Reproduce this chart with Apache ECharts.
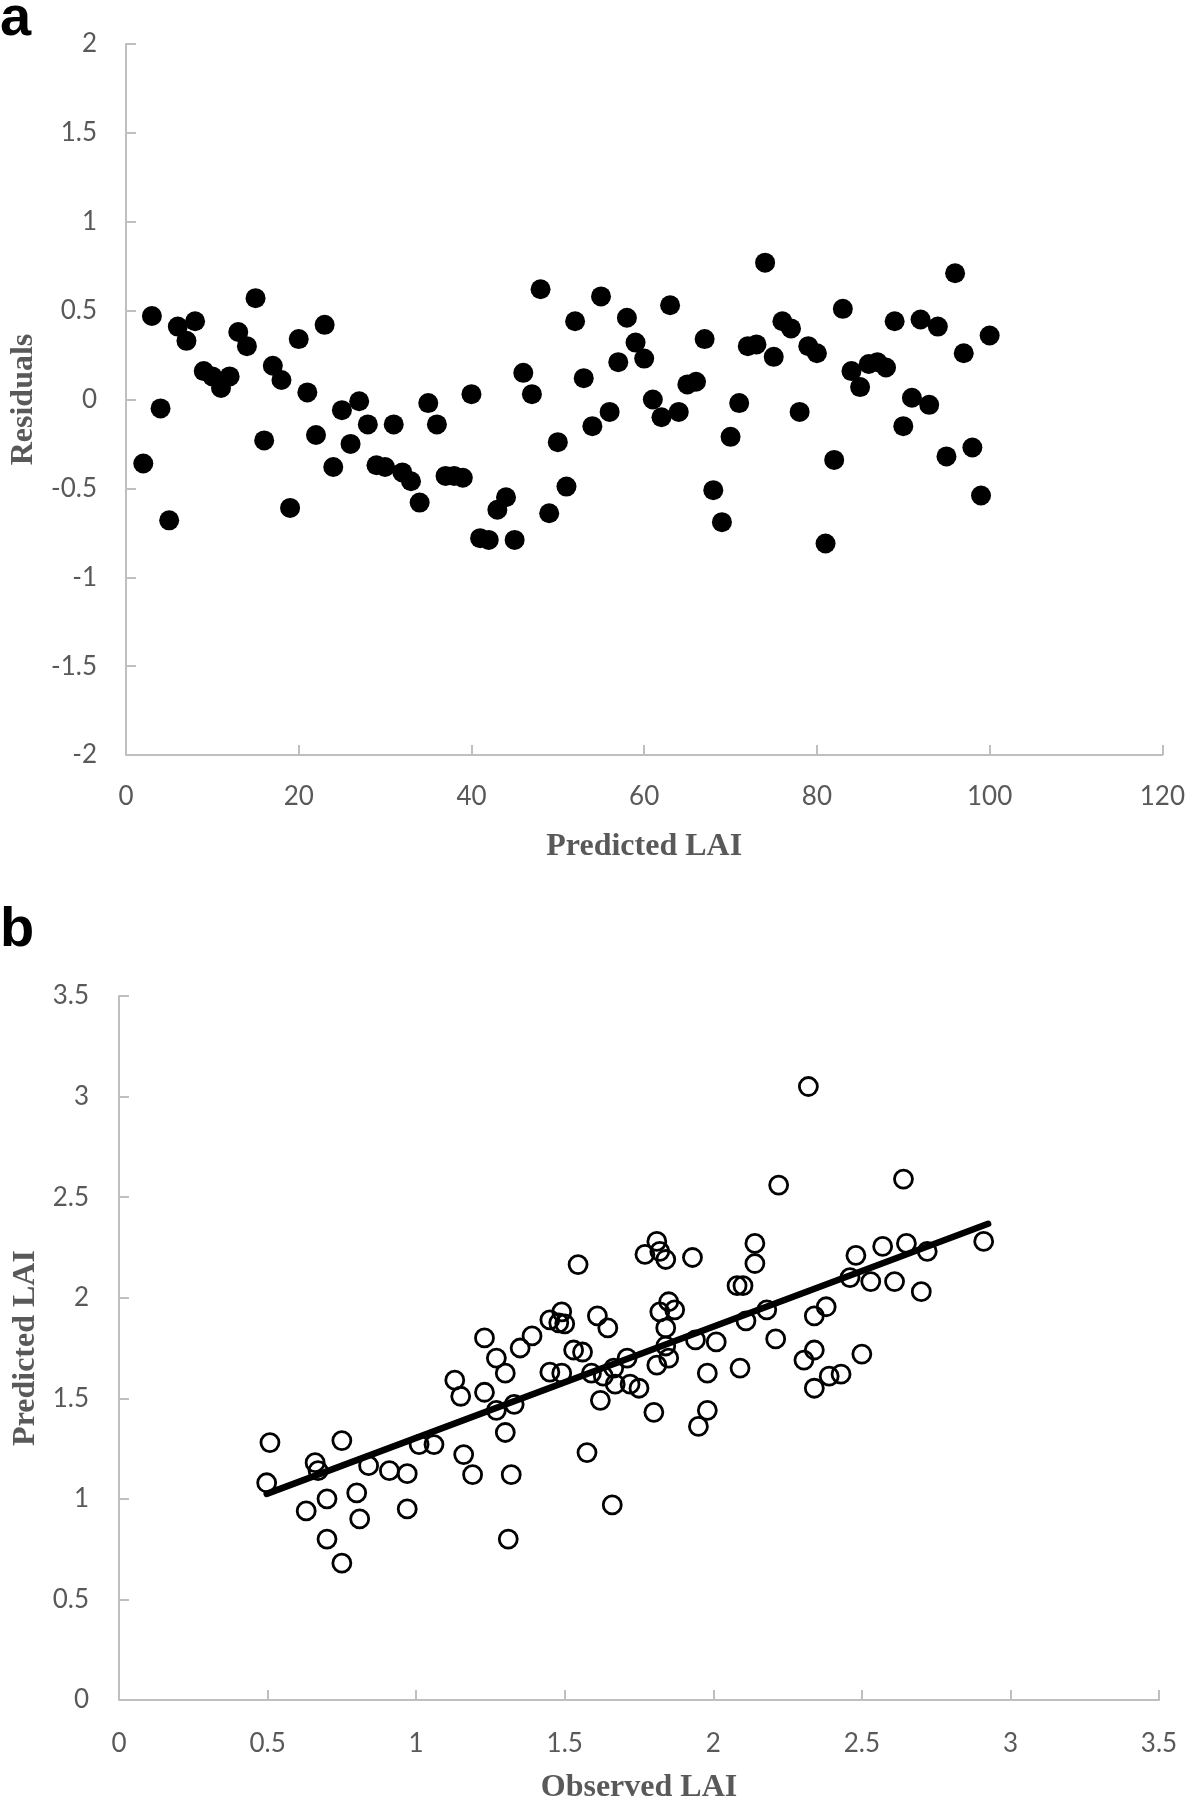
<!DOCTYPE html>
<html>
<head>
<meta charset="utf-8">
<script src="https://cdn.jsdelivr.net/npm/echarts@6/dist/echarts.min.js"></script>
<style>
html,body{margin:0;padding:0;background:#fff;}
#c{width:1188px;height:1805px;}
</style>
</head>
<body>
<div id="c"></div>
<script>
// Panel a: residuals vs sample index
var residualX = [2,3,4,5,6,7,8,9,10,11,12,13,14,15,16,17,18,19,20,21,22,23,24,25,26,27,28,29,30,31,32,33,34,35,36,37,38,39,40,41,42,43,44,45,46,47,48,49,50,51,52,53,54,55,56,57,58,59,60,61,62,63,64,65,66,67,68,69,70,71,72,73,74,75,76,77,78,79,80,81,82,83,84,85,86,87,88,89,90,91,92,93,94,95,96,97,98,99,100];
var residualY = [-0.36,0.47,-0.05,-0.68,0.41,0.33,0.44,0.16,0.13,0.065,0.13,0.38,0.30,0.57,-0.23,0.19,0.11,-0.61,0.34,0.04,
 -0.20,0.42,-0.38,-0.06,-0.25,-0.01,-0.14,-0.37,-0.38,-0.14,-0.41,-0.46,-0.58,-0.02,-0.14,-0.43,-0.43,-0.44,0.03,-0.78,
 -0.79,-0.62,-0.55,-0.79,0.15,0.03,0.62,-0.64,-0.24,-0.49,0.44,0.12,-0.15,0.58,-0.07,0.21,0.46,0.32,0.23,0.0,
 -0.10,0.53,-0.07,0.085,0.10,0.34,-0.51,-0.69,-0.21,-0.02,0.30,0.31,0.77,0.24,0.44,0.40,-0.07,0.30,0.26,-0.81,
 -0.34,0.51,0.16,0.07,0.20,0.21,0.18,0.44,-0.15,0.01,0.45,-0.03,0.41,-0.32,0.71,0.26,-0.27,-0.54,0.36];

// Panel b: observed vs predicted LAI
var observedLAI = [0.497,0.508,0.63,0.66,0.67,0.70,0.70,0.75,0.75,0.80,0.81,0.84,0.91,0.97,0.97,1.01,1.06,1.13,1.15,1.16,
 1.19,1.23,1.23,1.27,1.27,1.30,1.30,1.31,1.32,1.33,1.35,1.39,1.45,1.45,1.48,1.49,1.50,1.49,1.53,1.545,
 1.56,1.575,1.59,1.61,1.62,1.63,1.645,1.66,1.665,1.67,1.71,1.72,1.75,1.77,1.80,1.81,1.81,1.82,1.82,1.84,
 1.84,1.84,1.85,1.85,1.87,1.93,1.94,1.95,1.98,1.98,2.01,2.08,2.09,2.10,2.11,2.14,2.14,2.18,2.21,2.22,
 2.305,2.32,2.34,2.34,2.34,2.38,2.39,2.43,2.46,2.48,2.50,2.53,2.57,2.61,2.64,2.65,2.70,2.72,2.91];
var predictedLAI = [1.08,1.28,0.94,1.18,1.14,1.00,0.80,1.29,0.68,1.03,0.90,1.165,1.14,0.95,1.125,1.27,1.27,1.59,1.51,1.22,
 1.12,1.53,1.80,1.70,1.44,1.625,1.33,0.80,1.12,1.47,1.75,1.81,1.63,1.89,1.875,1.93,1.87,1.625,1.74,2.165,
 1.73,1.23,1.625,1.91,1.49,1.61,1.85,0.97,1.65,1.57,1.70,1.57,1.55,2.215,1.43,1.665,2.28,1.93,2.23,2.19,
 1.85,1.76,1.98,1.70,1.94,2.20,1.79,1.36,1.44,1.625,1.78,2.06,1.65,2.06,1.885,2.27,2.17,1.94,1.795,2.56,
 1.69,3.05,1.55,1.91,1.74,1.955,1.61,1.62,2.10,2.21,1.72,2.08,2.255,2.08,2.59,2.27,2.03,2.23,2.28];
var trendSlope = 0.553;
var trendIntercept = 0.750;

var aTicksX = {min:0,max:120,interval:20};
var aTicksY = {min:-2,max:2,interval:0.5};
var bTicks = {min:0,max:3.5,interval:0.5};

var dataA = residualX.map(function(x,i){return [x,residualY[i]];});
var dataB = observedLAI.map(function(x,i){return [x,predictedLAI[i]];});
var xMin = Math.min.apply(null, observedLAI), xMax = Math.max.apply(null, observedLAI) + 0.015;
var trend = [[xMin, trendIntercept + trendSlope*xMin],[xMax, trendIntercept + trendSlope*xMax]];

var axisColor = '#bfbfbf';
var labelStyle = {color:'#595959', fontFamily:'Lato', fontSize:26};
var nameStyle = {color:'#595959', fontFamily:'Liberation Serif', fontWeight:'bold', fontSize:32};
function valAxis(o){
  return Object.assign({
    type:'value',
    axisLine:{show:true,onZero:false,lineStyle:{color:axisColor,width:2}},
    axisTick:{show:true,inside:true,length:10,lineStyle:{color:axisColor,width:2}},
    splitLine:{show:false},
    nameLocation:'middle',
    nameTextStyle:nameStyle
  }, o);
}

var chart = echarts.init(document.getElementById('c'));
chart.setOption({
  animation:false,
  backgroundColor:'#fff',
  graphic:[
    {type:'text',left:0,top:-8,style:{text:'a',font:'bold 56px "Liberation Sans"',fill:'#000'}},
    {type:'text',left:0,top:903,style:{text:'b',font:'bold 56px "Liberation Sans"',fill:'#000'}}
  ],
  grid:[
    {left:123,top:44,width:1043,height:711},
    {left:119,top:996,width:1040,height:716}
  ],
  xAxis:[
    valAxis({gridIndex:0,min:aTicksX.min,max:aTicksX.max,interval:aTicksX.interval,
      axisLabel:Object.assign({margin:29},labelStyle),name:'Predicted LAI',nameGap:76}),
    valAxis({gridIndex:1,min:bTicks.min,max:bTicks.max,interval:bTicks.interval,
      axisLabel:Object.assign({margin:31},labelStyle),name:'Observed LAI',nameGap:72})
  ],
  yAxis:[
    valAxis({gridIndex:0,min:aTicksY.min,max:aTicksY.max,interval:aTicksY.interval,
      axisLabel:Object.assign({margin:29},labelStyle),name:'Residuals',nameGap:86}),
    valAxis({gridIndex:1,min:bTicks.min,max:bTicks.max,interval:bTicks.interval,
      axisLabel:Object.assign({margin:30},labelStyle),name:'Predicted LAI',nameGap:76})
  ],
  series:[
    {type:'scatter',xAxisIndex:0,yAxisIndex:0,data:dataA,symbol:'circle',symbolSize:20,
      itemStyle:{color:'#000',opacity:1}},
    {type:'scatter',xAxisIndex:1,yAxisIndex:1,data:dataB,symbol:'circle',symbolSize:18,
      itemStyle:{color:'rgba(0,0,0,0)',borderColor:'#000',borderWidth:2.8,opacity:1}},
    {type:'line',xAxisIndex:1,yAxisIndex:1,data:trend,showSymbol:false,symbol:'none',
      lineStyle:{color:'#000',width:6.5,cap:'round'},z:3}
  ]
});
</script>
</body>
</html>
